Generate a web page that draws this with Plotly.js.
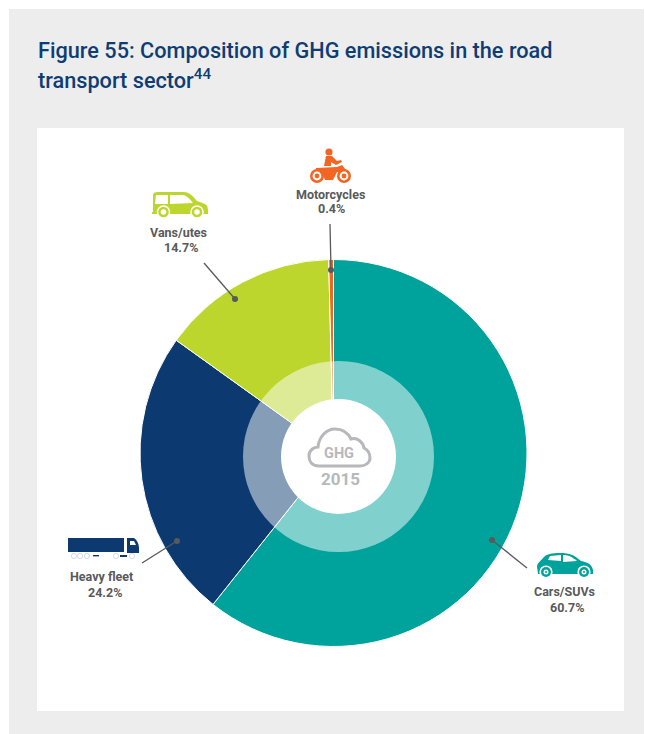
<!DOCTYPE html>
<html><head><meta charset="utf-8">
<script src="https://cdn.plot.ly/plotly-3.0.1.min.js"></script>
<style>html,body{margin:0;padding:0;background:#fff;overflow:hidden}#c{width:645px;height:734px}</style>
</head><body><div id="c"></div>
<script>
const categories=['Cars/SUVs','Heavy fleet','Vans/utes','Motorcycles'];
const shares=[60.7,24.2,14.7,0.4];
const colors=['#00a39b','#0c3a70','#bdd62d','#f26522'];
const W=645,H=734,CX=333.5,CY=453,R=193.5;
const labelName=[[564,591],[101,576],[178,232],[330,194]];
const labelValue=[[567,607],[105,592],[181,247],[331,208]];
const leaders=[[492,540,527,568],[177,541,142,563],[235,299,204,263],[331,270,330,224]];
const INK='#58595b',GREY='#b7b8bc',NAVY='#0f3d73';
const dom=r=>({x:[(CX-r)/W,(CX+r)/W],y:[1-(CY+r)/H,1-(CY-r)/H]});
const pie={type:'pie',labels:categories,values:shares,sort:false,direction:'clockwise',rotation:0,hole:0,
  domain:dom(R),marker:{colors:colors,line:{color:'#ffffff',width:1}},textinfo:'none',showlegend:false,hoverinfo:'label+percent'};
const base={xref:'x',yref:'y'};
const path=(d,fill,extra)=>Object.assign({},base,{type:'path',path:d,fillcolor:fill,line:{width:0},layer:'above'},extra||{});
const rect=(x0,y0,x1,y1,fill,layer)=>Object.assign({},base,{type:'rect',x0,y0,x1,y1,fillcolor:fill,line:{width:0},layer:layer||'above'});
const circ=(x,y,r,fill)=>Object.assign({},base,{type:'circle',x0:x-r,x1:x+r,y0:y-r,y1:y+r,fillcolor:fill,line:{width:0},layer:'above'});
const shapes=[rect(9,9,644,734,'#ededee','below'),rect(37,128,624,711,'#ffffff','below')];
// translucent ring and centre
shapes.push(circ(338.5,456.5,95.5,'rgba(255,255,255,0.5)'));
shapes.push(circ(338.5,456.5,57.5,'#ffffff'));
// leader lines
leaders.forEach(l=>{
  shapes.push(Object.assign({},base,{type:'line',x0:l[0],y0:l[1],x1:l[2],y1:l[3],line:{color:INK,width:1.3},layer:'above'}));
  shapes.push(circ(l[0],l[1],3,INK));
});
// cloud
shapes.push(path('M319,466 C311,466 309,460 309,456 C309,450 314,447 318,447 C319,437 326,429 335,429 C342,429 348,433 351,439 C357,437 363,442 364,448 C368,450 370,454 370,458 C370,463 365,466 360,466 Z','rgba(0,0,0,0)',{line:{color:GREY,width:3}}));
// car
const T=colors[0];
shapes.push(path('M538,574 L537,566 C538,562 542,560 543,558 C546,554 552,553 560,553 C570,553 574,555 581,561 C588,562 592,565 593,570 L593,574 Z',T));
shapes.push(path('M548,560 L550,556 L561,555 L561,561 Z','#ffffff'));
shapes.push(path('M563,555 C569,555 572,557 577,561 L563,562 Z','#ffffff'));
[[546,572],[584,572]].forEach(c=>{shapes.push(circ(c[0],c[1],6.6,'#ffffff'),circ(c[0],c[1],5,T),circ(c[0],c[1],2.5,'#ffffff'),circ(c[0],c[1],1,T));});
// van
const V=colors[2];
shapes.push(path('M153,195 C153,193 155,192 158,192 L184,192 C189,192 193,196 197,201 L205,204 C207,205 208,207 208,212 L153,212 Z',V));
shapes.push(path('M156,195 L168,195 L168,204 L155,204 Z','#ffffff'));
shapes.push(path('M170,195 L183,195 C186,195 190,199 193,203 L170,204 Z','#ffffff'));
shapes.push(rect(152,212,208,214,V));
[[163.5,212],[197,212]].forEach(c=>{shapes.push(circ(c[0],c[1],6.8,'#ffffff'),circ(c[0],c[1],5.3,V),circ(c[0],c[1],2.8,'#ffffff'));});
// motorcycle
const M=colors[3];
shapes.push(circ(329,152,3.6,M));
shapes.push(path('M326,156 L332,156 L337,161 L341,160 L342,162 L336,165 L331,162 L331,166 L324,166 Z',M));
shapes.push(path('M316,168 L337,167 L342,165 L346,170 L343,172 L337,172 L333,180 L325,180 L322,172 L316,171 Z',M));
[[317,176],[344,176]].forEach(c=>{shapes.push(circ(c[0],c[1],7,M),circ(c[0],c[1],4.4,'#ffffff'),circ(c[0],c[1],2.4,M));});
// truck
const N=colors[1];
shapes.push(rect(68,538,124,552,N));
shapes.push(path('M127,538 L134,538 C137,540 139,544 139,548 L139,553 L127,553 Z',N));
shapes.push(path('M130,541 L134,541 L136,545 L130,545 Z','#ffffff'));
shapes.push(rect(93,555,99,556.4,N),rect(120,555,127,557,N));
[[74,556],[80,556],[87,556],[116,556],[132,556]].forEach(c=>{shapes.push(Object.assign(circ(c[0],c[1],2.6,'rgba(0,0,0,0)'),{line:{color:'#c9d3e0',width:0.8}}));});
// annotations
const text=(x,y,t,size,color)=>({xref:'x',yref:'y',x,y,text:t,showarrow:false,xanchor:'center',yanchor:'middle',
  font:{family:'Roboto, sans-serif',size,color}});
const annotations=[];
categories.forEach((c,i)=>{
  annotations.push(text(labelName[i][0],labelName[i][1],'<b>'+c+'</b>',12.5,INK));
  annotations.push(text(labelValue[i][0],labelValue[i][1],'<b>'+shares[i].toFixed(1)+'%</b>',12.5,INK));
});
annotations.push(text(339,453,'<b>GHG</b>',14.5,GREY));
annotations.push(text(340,479,'<b>2015</b>',17,GREY));
const head=(y,t)=>({xref:'x',yref:'y',x:36,y,text:t,showarrow:false,xanchor:'left',yanchor:'middle',font:{family:'Roboto, sans-serif',size:21.7,color:NAVY,weight:500}});
annotations.push(head(50,'Figure 55: Composition of GHG emissions in the road'));
annotations.push(head(79,'transport sector<sup>44</sup>'));
Plotly.newPlot('c',[pie],{
  width:W,height:H,margin:{l:0,r:0,t:0,b:0},paper_bgcolor:'#ffffff',plot_bgcolor:'rgba(0,0,0,0)',
  xaxis:{range:[0,W],visible:false,fixedrange:true},yaxis:{range:[H,0],visible:false,fixedrange:true},
  shapes,annotations,showlegend:false
},{displayModeBar:false,staticPlot:true});
</script></body></html>
